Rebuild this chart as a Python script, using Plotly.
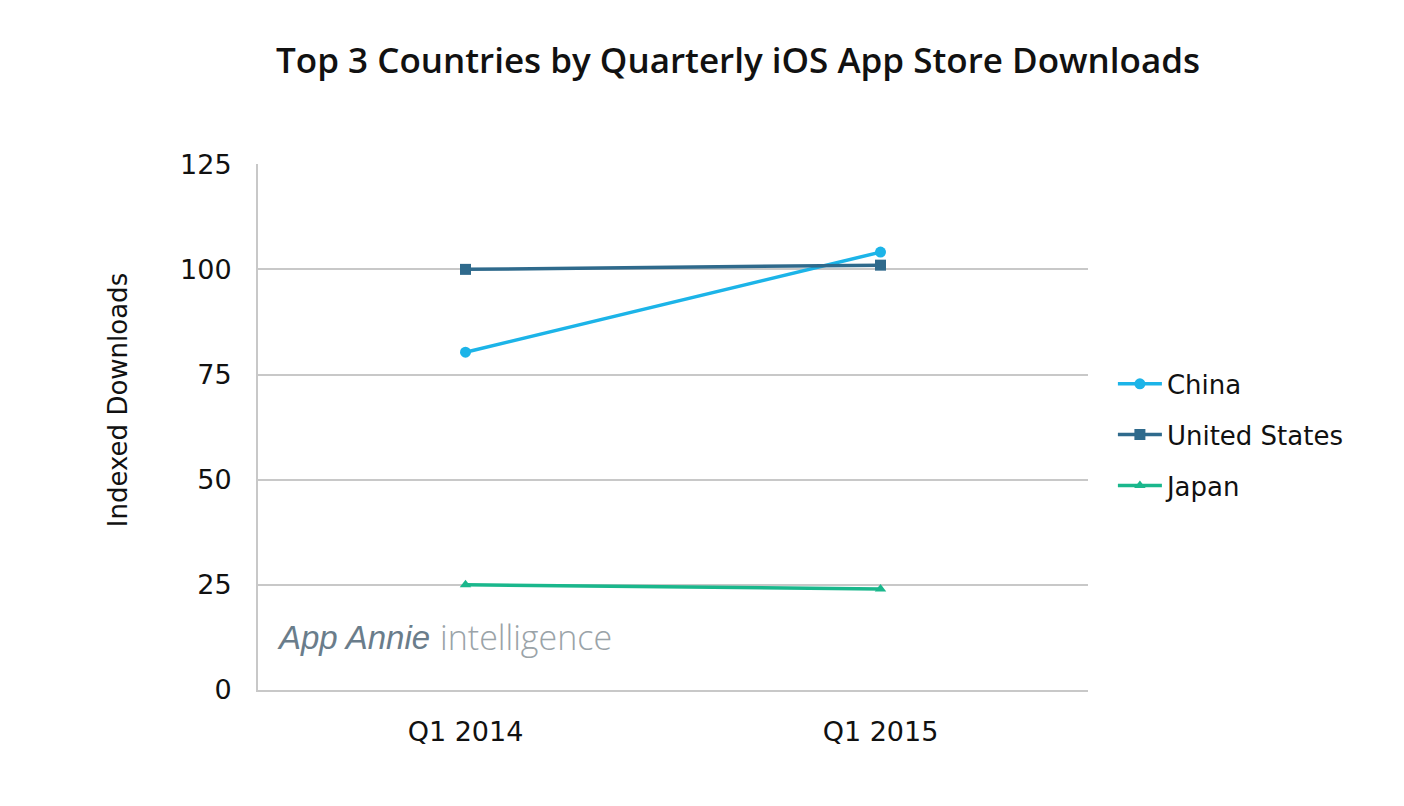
import plotly.graph_objects as go

quarters = ["Q1 2014", "Q1 2015"]
china = [80.3, 104.1]
united_states = [100, 101]
japan = [25, 24]
y_ticks = [0, 25, 50, 75, 100, 125]

FONT = "DejaVu Sans"
TFONT = "Open Sans"
GRID = "#c8c8c8"

fig = go.Figure()
fig.add_trace(go.Scatter(x=quarters, y=china, name="China", mode="lines+markers",
                         legendgroup="a",
                         line=dict(color="#1cb4e8", width=3.5),
                         marker=dict(symbol="circle", size=11, color="#1cb4e8")))
fig.add_trace(go.Scatter(x=quarters, y=united_states, name="United States", mode="lines+markers",
                         legendgroup="b",
                         line=dict(color="#2f6a8c", width=3.5),
                         marker=dict(symbol="square", size=11, color="#2f6a8c")))
fig.add_trace(go.Scatter(x=quarters, y=japan, name="Japan", mode="lines+markers",
                         legendgroup="c",
                         line=dict(color="#1ab78c", width=3.5),
                         marker=dict(symbol="triangle-up", size=10, color="#1ab78c")))

fig.add_annotation(xref="paper", yref="paper", x=0.02, y=0.1, xanchor="left", yanchor="middle",
                   text="<i>App Annie</i>", showarrow=False,
                   font=dict(family="Liberation Sans", size=33, color="#6a7d8b"))
fig.add_annotation(xref="paper", yref="paper", x=0.217, y=0.1, xanchor="left", yanchor="middle",
                   text="intelligence", showarrow=False,
                   font=dict(family=TFONT, size=34, color="#9aa3a8", weight=300))
fig.add_annotation(xref="paper", yref="paper", x=-0.1687, y=0.551, xanchor="center", yanchor="middle",
                   text="Indexed Downloads", showarrow=False, textangle=-90,
                   font=dict(family=FONT, size=26, color="#111111"))

fig.update_layout(
    width=1404, height=806,
    paper_bgcolor="white", plot_bgcolor="white",
    margin=dict(l=250, r=324, t=156, b=124),
    title=dict(text="Top 3 Countries by Quarterly iOS App Store Downloads",
               x=0.52, xanchor="center", y=0.935, yanchor="middle",
               font=dict(family=TFONT, size=35, color="#111111", weight=600)),
    font=dict(family=FONT, color="#111111"),
    legend=dict(x=1.03, y=0.485, xanchor="left", yanchor="middle",
                font=dict(family=FONT, size=26, color="#111111"),
                itemwidth=44, tracegroupgap=14, bgcolor="rgba(0,0,0,0)"),
    xaxis=dict(type="category", range=[-0.5, 1.5], showgrid=False,
               showline=True, linecolor=GRID, linewidth=2,
               ticks="", ticklabelstandoff=17,
               tickfont=dict(family=FONT, size=27, color="#111111"),
               zeroline=False),
    yaxis=dict(range=[0, 125.05], tickvals=y_ticks, showgrid=True, gridcolor=GRID,
               gridwidth=2, showline=True, linecolor=GRID, linewidth=2,
               zeroline=False, ticks="", ticklabelstandoff=19,
               tickfont=dict(family=FONT, size=27, color="#111111")),
)

fig.write_html("out.html")
